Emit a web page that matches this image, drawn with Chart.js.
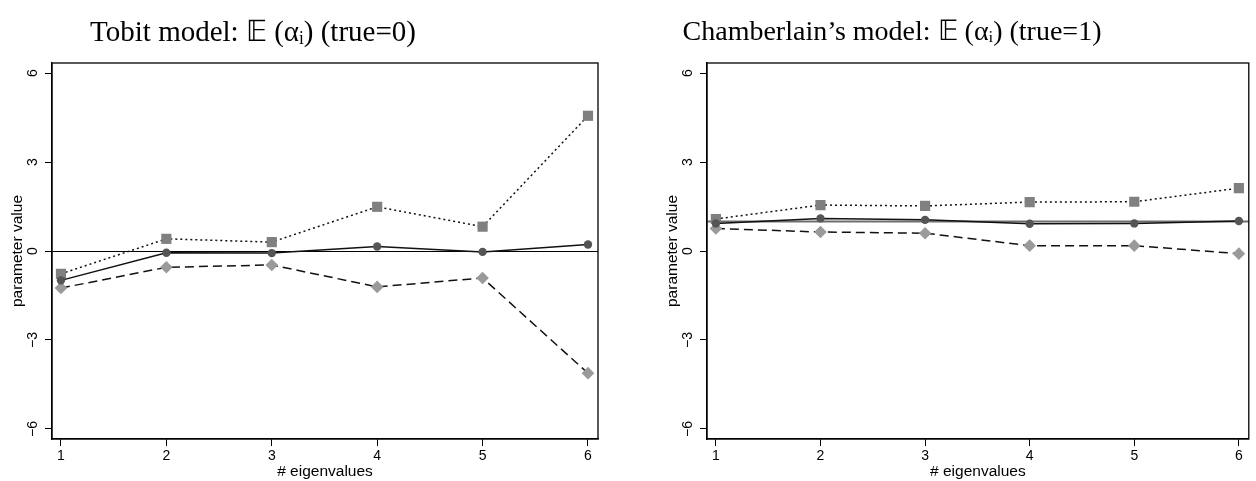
<!DOCTYPE html>
<html>
<head>
<meta charset="utf-8">
<script src="https://cdn.jsdelivr.net/npm/chart.js@4"></script>
<style>
  body { margin: 0; background: #fff; }
  canvas { display: block; float: left; }
</style>
</head>
<body>
<canvas id="tobitGrafico" width="628" height="481"></canvas>
<canvas id="chamberGrafico" width="628" height="481"></canvas>
<script>
const eigenvalues = [1, 2, 3, 4, 5, 6];
const yTicks = [-6, -3, 0, 3, 6];

// Tobit model
const tobitSquare = [-0.77, 0.41, 0.30, 1.49, 0.82, 4.56];
const tobitCircle = [-0.99, -0.06, -0.07, 0.15, -0.03, 0.22];
const tobitDiamond = [-1.25, -0.55, -0.47, -1.21, -0.91, -4.12];
const tobitTrue = 0;

// Chamberlain's model
const chamberSquare = [1.08, 1.55, 1.52, 1.65, 1.66, 2.12];
const chamberCircle = [0.93, 1.10, 1.05, 0.92, 0.93, 1.01];
const chamberDiamond = [0.76, 0.64, 0.60, 0.18, 0.18, -0.09];
const chamberTrue = 1;

Chart.defaults.font.family = '"Liberation Sans", Arial, sans-serif';
Chart.defaults.color = '#000';

// title drawn above the plot box
const panelTitle = {
  id: 'panelTitle',
  afterDraw(chart, args, opts) {
    const ctx = chart.ctx;
    ctx.save();
    ctx.font = opts.font;
    ctx.fillStyle = '#000';
    ctx.textAlign = 'center';
    ctx.textBaseline = 'middle';
    ctx.fillText(opts.text, opts.x, opts.y);
    ctx.restore();
  }
};

// box around plot + horizontal "true value" line
const boxAndTrue = {
  id: 'boxAndTrue',
  beforeDatasetsDraw(chart, args, opts) {
    const {ctx, chartArea: a} = chart;
    const y = Math.round(chart.scales.y.getPixelForValue(opts.value)) + 0.5;
    ctx.save();
    ctx.strokeStyle = opts.color;
    ctx.lineWidth = opts.width;
    ctx.beginPath();
    ctx.moveTo(a.left, y);
    ctx.lineTo(a.right, y);
    ctx.stroke();
    ctx.restore();
  },
  afterDraw(chart) {
    const {ctx, chartArea: a} = chart;
    ctx.save();
    ctx.strokeStyle = '#000';
    ctx.lineWidth = 1.3;
    ctx.strokeRect(a.left, a.top, a.right - a.left, a.bottom - a.top);
    ctx.restore();
  }
};

function serie(vals, style, radius, fill, dash) {
  return {
    data: eigenvalues.map((x, i) => ({x: x, y: vals[i]})),
    borderColor: '#111',
    borderWidth: 1.5,
    borderDash: dash,
    pointStyle: style,
    pointRadius: radius,
    pointBackgroundColor: fill,
    pointBorderWidth: 0,
    tension: 0
  };
}

function fazGrafico(id, titulo, sq, ci, di, trueVal, trueColor, trueWidth, padL, padR) {
  return new Chart(document.getElementById(id), {
    type: 'line',
    data: {
      datasets: [
        serie(ci, 'circle', 4.2, '#555555', []),
        serie(sq, 'rect', 7.2, '#808080', [2, 3]),
        serie(di, 'rectRot', 6.3, '#9a9a9a', [9, 5])
      ]
    },
    plugins: [panelTitle, boxAndTrue],
    options: {
      responsive: false,
      animation: false,
      devicePixelRatio: 1,
      layout: { padding: { top: 63, left: padL, right: padR, bottom: 0 } },
      plugins: {
        legend: { display: false },
        tooltip: { enabled: false },
        panelTitle: titulo,
        boxAndTrue: { value: trueVal, color: trueColor, width: trueWidth }
      },
      scales: {
        x: {
          type: 'linear',
          min: 0.915,
          max: 6.095,
          afterBuildTicks: s => { s.ticks = eigenvalues.map(v => ({value: v})); },
          afterFit: s => { s.height = 42; },
          ticks: { font: { size: 14 }, padding: 2 },
          grid: { drawOnChartArea: false, tickLength: 7, color: '#000' },
          border: { color: '#000', width: 1.3 },
          title: { display: true, text: '# eigenvalues', font: { size: 15.5 }, padding: 0 }
        },
        y: {
          type: 'linear',
          min: -6.34,
          max: 6.34,
          afterBuildTicks: s => { s.ticks = yTicks.map(v => ({value: v})); },
          afterFit: s => { s.width = 52; },
          ticks: {
            font: { size: 14 },
            minRotation: 90,
            maxRotation: 90,
            crossAlign: 'center',
            padding: 4,
            callback: v => String(v).replace('-', '\u2212')
          },
          grid: { drawOnChartArea: false, tickLength: 7, color: '#000' },
          border: { color: '#000', width: 1.3 },
          title: { display: true, text: 'parameter value', font: { size: 15.5 }, padding: { top: 8, bottom: 0 } }
        }
      }
    }
  });
}

fazGrafico('tobitGrafico',
  { text: 'Tobit model: \uD835\uDD3C (\u03B1\u1D62) (true=0)', font: '29px "Liberation Serif", serif', x: 253, y: 33 },
  tobitSquare, tobitCircle, tobitDiamond, tobitTrue, '#000', 1, 0, 30);

fazGrafico('chamberGrafico',
  { text: 'Chamberlain\u2019s model: \uD835\uDD3C (\u03B1\u1D62) (true=1)', font: '28px "Liberation Serif", serif', x: 264, y: 33 },
  chamberSquare, chamberCircle, chamberDiamond, chamberTrue, '#6e6e6e', 2.2, 27, 2);
</script>
</body>
</html>
